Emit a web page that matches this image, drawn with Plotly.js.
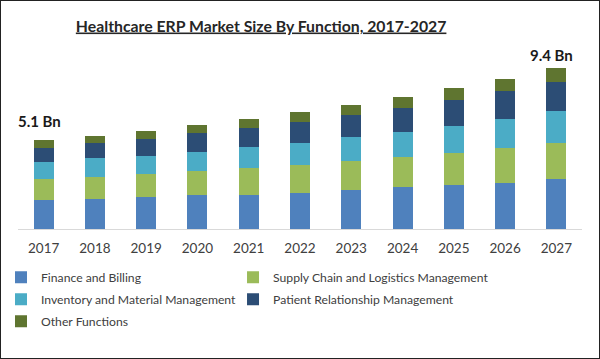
<!DOCTYPE html>
<html>
<head>
<meta charset="utf-8">
<script src="https://cdn.plot.ly/plotly-3.0.1.min.js"></script>
<style>
  html, body { margin: 0; padding: 0; background: #fff; }
  #chart { width: 598px; height: 357px; border: 1px solid #222; }
</style>
</head>
<body>
<div id="chart"></div>
<script>
const years = ['2017','2018','2019','2020','2021','2022','2023','2024','2025','2026','2027'];
const finance   = [1.67, 1.76, 1.84, 1.96, 1.99, 2.12, 2.25, 2.42, 2.54, 2.69, 2.89];
const supply    = [1.22, 1.28, 1.37, 1.40, 1.53, 1.63, 1.69, 1.74, 1.90, 2.00, 2.13];
const inventory = [0.99, 1.07, 1.05, 1.14, 1.26, 1.28, 1.43, 1.49, 1.57, 1.72, 1.86];
const patient   = [0.85, 0.91, 0.99, 1.10, 1.10, 1.21, 1.28, 1.38, 1.49, 1.63, 1.69];
const other     = [0.43, 0.41, 0.47, 0.47, 0.52, 0.58, 0.58, 0.66, 0.72, 0.70, 0.81];
const seriesNames = ['Finance and Billing', 'Supply Chain and Logistics Management',
  'Inventory and Material Management', 'Patient Relationship Management', 'Other Functions'];
const labelYears = ['2017', '2027'];
const labelTexts = ['5.1 Bn', '9.4 Bn'];

const colors = ['#4f81bd', '#9bbb59', '#4bacc6', '#2c4d75', '#5f7530'];
const seriesData = [finance, supply, inventory, patient, other];
// legend column for each series (reference shows two columns)
const legendCols = ['legend', 'legend2', 'legend', 'legend2', 'legend'];

const traces = seriesData.map((vals, i) => ({
  type: 'bar', x: years, y: vals, name: seriesNames[i],
  legend: legendCols[i], legendgroup: 'g' + i,
  marker: { color: colors[i], line: { width: 0 } },
  width: 0.39, hoverinfo: 'x+y+name'
}));

const font = 'Lato, "Open Sans", sans-serif';
const legendBase = {
  orientation: 'v', traceorder: 'grouped', tracegroupgap: 3,
  xref: 'container', xanchor: 'left',
  yref: 'container', y: 0.267, yanchor: 'top',
  font: { family: font, size: 12.2, color: '#404040' },
  bgcolor: 'rgba(0,0,0,0)', borderwidth: 0
};
const labelAnnotations = labelYears.map((yr, k) => {
  const idx = years.indexOf(yr);
  const total = seriesData.reduce((s, arr) => s + arr[idx], 0);
  return {
    x: idx, y: total, xref: 'x', yref: 'y', text: '<b>' + labelTexts[k] + '</b>',
    showarrow: false, xshift: k === 0 ? -4 : -5, yanchor: 'bottom', yshift: k === 0 ? 8 : 2,
    font: { family: font, size: 15, color: '#1a1a1a' }
  };
});

const layout = {
  width: 598, height: 357,
  paper_bgcolor: '#ffffff', plot_bgcolor: '#ffffff',
  barmode: 'stack',
  margin: { l: 17, r: 17, t: 39, b: 129, autoexpand: false },
  font: { family: font, color: '#404040', size: 13 },
  title: {
    text: '<b>Healthcare ERP Market Size By Function, 2017-2027</b>',
    font: { family: font, size: 15.8, color: '#262626', lineposition: 'under' },
    x: 0.435, xanchor: 'center', xref: 'container',
    y: 0.93, yanchor: 'middle', yref: 'container'
  },
  xaxis: {
    type: 'category', range: [-0.5, 10.5],
    showline: true, linecolor: '#d9d9d9', linewidth: 1,
    showgrid: false, zeroline: false, ticks: '', ticklabelstandoff: 7,
    tickfont: { family: font, size: 13.5, color: '#404040' }
  },
  yaxis: {
    range: [0, 10.99], showticklabels: false, showline: false,
    showgrid: false, zeroline: false, ticks: ''
  },
  showlegend: true,
  legend: Object.assign({}, legendBase, { x: 0 }),
  legend2: Object.assign({}, legendBase, { x: 0.388 }),
  annotations: labelAnnotations
};

Plotly.newPlot('chart', traces, layout, { displayModeBar: false, staticPlot: true });
</script>
</body>
</html>
